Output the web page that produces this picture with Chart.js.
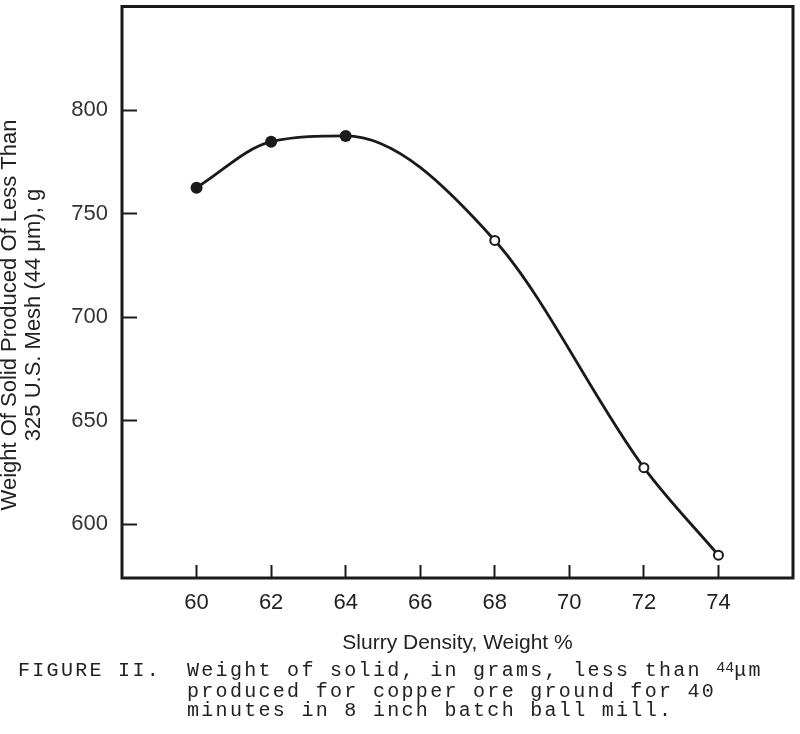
<!DOCTYPE html>
<html>
<head>
<meta charset="utf-8">
<script src="https://cdn.jsdelivr.net/npm/chart.js@4"></script>
<style>
  body { margin: 0; background: #fff; }
  #wrap { position: relative; width: 800px; height: 734px; }
  #myChart { position: absolute; left: 0; top: 0; }
  .cap { position: absolute; font-family: "Liberation Mono", monospace; font-size: 20px;
         letter-spacing: 2.3px; line-height: 19px; color: #222; white-space: pre; }
</style>
</head>
<body>
<div id="wrap">
  <canvas id="myChart" width="800" height="734"></canvas>
  <div class="cap" style="left:18px; top:661px;">FIGURE II.</div>
  <div class="cap" style="left:187px; top:661px;">Weight of solid, in grams, less than <span style="font-size:15px;letter-spacing:0;position:relative;top:-4px;">44</span>μm
produced for copper ore ground for 40
minutes in 8 inch batch ball mill.</div>
</div>
<script>
var xValues = [60, 62, 64, 68, 72, 74];
var yValues = [762.5, 784.7, 787.5, 737, 627.3, 585];
var filled = [true, true, true, false, false, false];
var xTicks = [60, 62, 64, 66, 68, 70, 72, 74];
var yTicks = [600, 650, 700, 750, 800];
var xTitle = "Slurry Density, Weight %";
var yTitle = ["Weight Of Solid Produced Of Less Than", "325 U.S. Mesh (44 μm), g"];

var ink = "#1a1a1a";

// frame round the plot area + the two-line y title
var boxPlugin = {
    id: "box",
    afterDraw: function (chart) {
        var a = chart.chartArea, ctx = chart.ctx;
        ctx.save();
        ctx.strokeStyle = ink;
        ctx.lineWidth = 3;
        ctx.strokeRect(a.left, a.top, a.right - a.left, a.bottom - a.top);
        ctx.fillStyle = "#222";
        ctx.font = "22px 'Liberation Sans', Arial, sans-serif";
        ctx.textAlign = "center";
        ctx.textBaseline = "middle";
        ctx.translate(10, 315);
        ctx.rotate(-Math.PI / 2);
        yTitle.forEach(function (t, i) { ctx.fillText(t, 0, i * 24); });
        ctx.restore();
    }
};

new Chart("myChart", {
    type: "line",
    data: {
        datasets: [{
            data: xValues.map(function (x, i) { return { x: x, y: yValues[i] }; }),
            borderColor: ink,
            borderWidth: 2.8,
            cubicInterpolationMode: "monotone",
            pointRadius: filled.map(function (f) { return f ? 6 : 4.5; }),
            pointBorderWidth: filled.map(function (f) { return f ? 0 : 2; }),
            pointBackgroundColor: filled.map(function (f) { return f ? ink : "#fff"; }),
            pointBorderColor: ink
        }]
    },
    plugins: [boxPlugin],
    options: {
        responsive: false,
        animation: false,
        layout: { padding: { left: 0, right: 7, top: 3, bottom: 0 } },
        plugins: { legend: { display: false }, tooltip: { enabled: false } },
        scales: {
            x: {
                type: "linear",
                min: 58,
                max: 76,
                afterBuildTicks: function (s) { s.ticks = xTicks.map(function (v) { return { value: v }; }); },
                afterFit: function (s) { s.height = 156; s.paddingLeft = 0; s.paddingRight = 0; },
                grid: { drawOnChartArea: false, drawTicks: true, tickLength: -13, tickWidth: 2, color: ink },
                border: { display: false },
                ticks: { padding: 25, color: "#222", font: { family: "'Liberation Sans', Arial, sans-serif", size: 22 } },
                title: {
                    display: true,
                    text: xTitle,
                    color: "#222",
                    font: { family: "'Liberation Sans', Arial, sans-serif", size: 21 },
                    padding: { top: 0, bottom: 78 }
                }
            },
            y: {
                min: 574,
                max: 850,
                afterBuildTicks: function (s) { s.ticks = yTicks.map(function (v) { return { value: v }; }); },
                afterFit: function (s) { s.width = 122; s.paddingTop = 0; s.paddingBottom = 0; },
                grid: { drawOnChartArea: false, drawTicks: true, tickLength: -15, tickWidth: 2, color: ink },
                border: { display: false },
                ticks: { padding: 29, color: "#333", font: { family: "'Liberation Sans', Arial, sans-serif", size: 22 } }
            }
        }
    }
});
</script>
</body>
</html>
